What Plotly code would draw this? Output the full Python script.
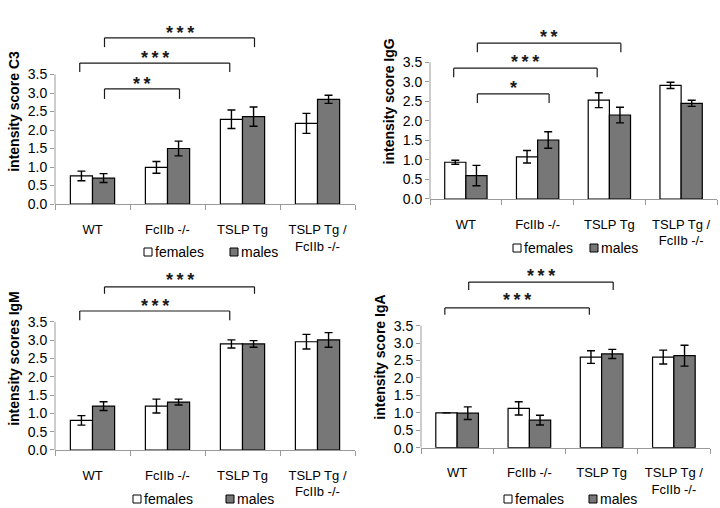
import plotly.graph_objects as go

# ---------------- data ----------------
categories = ["WT", "FcIIb -/-", "TSLP Tg", "TSLP Tg /<br>FcIIb -/-"]
series_names = ["females", "males"]
y_tick_values = [0.0, 0.5, 1.0, 1.5, 2.0, 2.5, 3.0, 3.5]

c3_females = [0.76, 0.99, 2.29, 2.18]
c3_females_err = [0.13, 0.16, 0.25, 0.27]
c3_males = [0.70, 1.50, 2.36, 2.83]
c3_males_err = [0.12, 0.20, 0.26, 0.11]

igg_females = [0.94, 1.08, 2.53, 2.91]
igg_females_err = [0.05, 0.16, 0.19, 0.08]
igg_males = [0.60, 1.51, 2.15, 2.45]
igg_males_err = [0.26, 0.21, 0.20, 0.08]

igm_females = [0.81, 1.20, 2.90, 2.96]
igm_females_err = [0.13, 0.19, 0.11, 0.20]
igm_males = [1.20, 1.31, 2.90, 3.01]
igm_males_err = [0.12, 0.08, 0.09, 0.20]

iga_females = [1.00, 1.13, 2.60, 2.60]
iga_females_err = [0.0, 0.19, 0.18, 0.20]
iga_males = [0.99, 0.79, 2.69, 2.64]
iga_males_err = [0.18, 0.14, 0.13, 0.30]

y_titles = ["intensity score C3", "intensity score IgG",
            "intensity scores IgM", "intensity score IgA"]

# significance comparisons: (group a, sex a, group b, sex b, label)
sig_c3 = [(0, "M", 2, "M", "***"), (0, "F", 2, "F", "***"), (0, "M", 1, "M", "**")]
sig_igg = [(0, "M", 2, "M", "**"), (0, "F", 2, "F", "***"), (0, "M", 1, "M", "*")]
sig_igm = [(0, "M", 2, "M", "***"), (0, "F", 2, "F", "***")]
sig_iga = [(0, "M", 2, "M", "***"), (0, "F", 2, "F", "***")]

# ---------------- layout helpers ----------------
W, H = 720, 508
panels = [
    dict(f=c3_females, fe=c3_females_err, m=c3_males, me=c3_males_err, sig=sig_c3,
         sig_y=[(4.49, 4.24, 4.73), (3.81, 3.57, 4.05), (3.11, 2.84, 3.35)],
         xd=[55/W, 355/W], yd=[0.5984, 0.9626], yr=[0, 5.0],
         leg=dict(fx=144, mx=230, y=252)),
    dict(f=igg_females, fe=igg_females_err, m=igg_males, me=igg_males_err, sig=sig_igg,
         sig_y=[(3.99, 3.76, 4.25), (3.35, 3.12, 3.61), (2.69, 2.46, 2.94)],
         xd=[430/W, 717/W], yd=[0.6083, 0.9927], yr=[0, 5.0],
         leg=dict(fx=513, mx=590, y=248)),
    dict(f=igm_females, fe=igm_females_err, m=igm_males, me=igm_males_err, sig=sig_igm,
         sig_y=[(4.46, 4.27, 4.76), (3.80, 3.55, 4.05)],
         xd=[55/W, 355/W], yd=[0.1142, 0.4742], yr=[0, 5.0],
         leg=dict(fx=133, mx=226, y=499)),
    dict(f=iga_females, fe=iga_females_err, m=iga_males, me=iga_males_err, sig=sig_iga,
         sig_y=[(4.75, 4.52, 5.04), (4.01, 3.81, 4.35)],
         xd=[421/W, 710/W], yd=[0.1187, 0.4756], yr=[0, 5.2],
         leg=dict(fx=504, mx=589, y=499)),
]

FONT = "Liberation Sans, Arial, sans-serif"
AXIS_GRAY = "#9a9a9a"
MALE_FILL = "#777777"
FILLS = {"females": "white", "males": MALE_FILL}
sex_offset = {"F": -0.17, "M": 0.16}
SQ = 8  # legend square size (px)

fig = go.Figure()
shapes = []
annotations = []
layout = {}

for i, p in enumerate(panels):
    n = "" if i == 0 else str(i + 1)
    xa, ya = "x" + n, "y" + n
    for name, vals, errs in [("females", p["f"], p["fe"]), ("males", p["m"], p["me"])]:
        fig.add_trace(go.Bar(
            x=categories, y=vals, name=name, xaxis=xa, yaxis=ya,
            marker=dict(color=FILLS[name], line=dict(color="black", width=1.2)),
            error_y=dict(type="data", array=errs, color="black", thickness=1.4, width=4),
            showlegend=False,
        ))
    layout["xaxis" + n] = dict(
        domain=p["xd"], anchor=ya, type="category", showline=True, linecolor=AXIS_GRAY,
        linewidth=1, ticks="outside", tickson="boundaries", ticklen=5, tickcolor=AXIS_GRAY,
        tickfont=dict(size=13, color="black", family=FONT), ticklabelstandoff=13,
        showgrid=False, zeroline=False, fixedrange=True, automargin=False,
    )
    layout["yaxis" + n] = dict(
        domain=p["yd"], anchor=xa, range=p["yr"], tickvals=y_tick_values,
        tickformat=".1f", showline=False, ticks="outside", ticklen=4, tickcolor=AXIS_GRAY,
        tickfont=dict(size=14, color="black", family=FONT), showgrid=False, zeroline=False,
        automargin=False, fixedrange=True,
        title=dict(text=y_titles[i], standoff=4,
                   font=dict(size=14, color="black", family=FONT, weight="bold")),
    )
    # y axis line only up to the last tick
    shapes.append(dict(type="line", xref=xa + " domain", yref=ya, x0=0, x1=0,
                       y0=y_tick_values[0], y1=y_tick_values[-1],
                       line=dict(color=AXIS_GRAY, width=1)))
    # legend (square + label) below each panel
    for name, lx in [("females", p["leg"]["fx"]), ("males", p["leg"]["mx"])]:
        ly = p["leg"]["y"]
        shapes.append(dict(type="rect", xref="paper", yref="paper",
                           x0=lx / W, x1=(lx + SQ) / W,
                           y0=(H - ly - SQ / 2) / H, y1=(H - ly + SQ / 2) / H,
                           fillcolor=FILLS[name], line=dict(color="black", width=1)))
        annotations.append(dict(x=(lx + SQ + 1) / W, y=(H - ly) / H, xref="paper",
                                yref="paper", text=name, showarrow=False,
                                xanchor="left", yanchor="middle",
                                font=dict(size=14, color="black", family=FONT)))
    # significance brackets
    for (ga, sa, gb, sb, lab), (ytop, yend, ystar) in zip(p["sig"], p["sig_y"]):
        xa0 = ga + sex_offset[sa]
        xb0 = gb + sex_offset[sb]
        for (x0, y0, x1, y1) in [(xa0, yend, xa0, ytop), (xa0, ytop, xb0, ytop),
                                 (xb0, ytop, xb0, yend)]:
            shapes.append(dict(type="line", xref=xa, yref=ya, x0=x0, y0=y0, x1=x1, y1=y1,
                               line=dict(color="#1a1a1a", width=1.2)))
        annotations.append(dict(x=(xa0 + xb0) / 2, y=ystar, xref=xa, yref=ya,
                                text="\u2009".join(lab), showarrow=False,
                                yanchor="middle", yshift=-4,
                                font=dict(size=18, color="#1a1a1a", family=FONT,
                                          weight="bold")))

fig.update_layout(
    width=W, height=H, autosize=False,
    margin=dict(l=0, r=0, t=0, b=0),
    paper_bgcolor="white", plot_bgcolor="white",
    barmode="group", bargap=0.41, bargroupgap=0,
    shapes=shapes, annotations=annotations, showlegend=False,
    font=dict(family=FONT, color="black"),
    **layout,
)

fig.write_html("out.html", config={"displayModeBar": False},
               post_script="document.body.style.margin='0';document.body.style.overflow='hidden';")
